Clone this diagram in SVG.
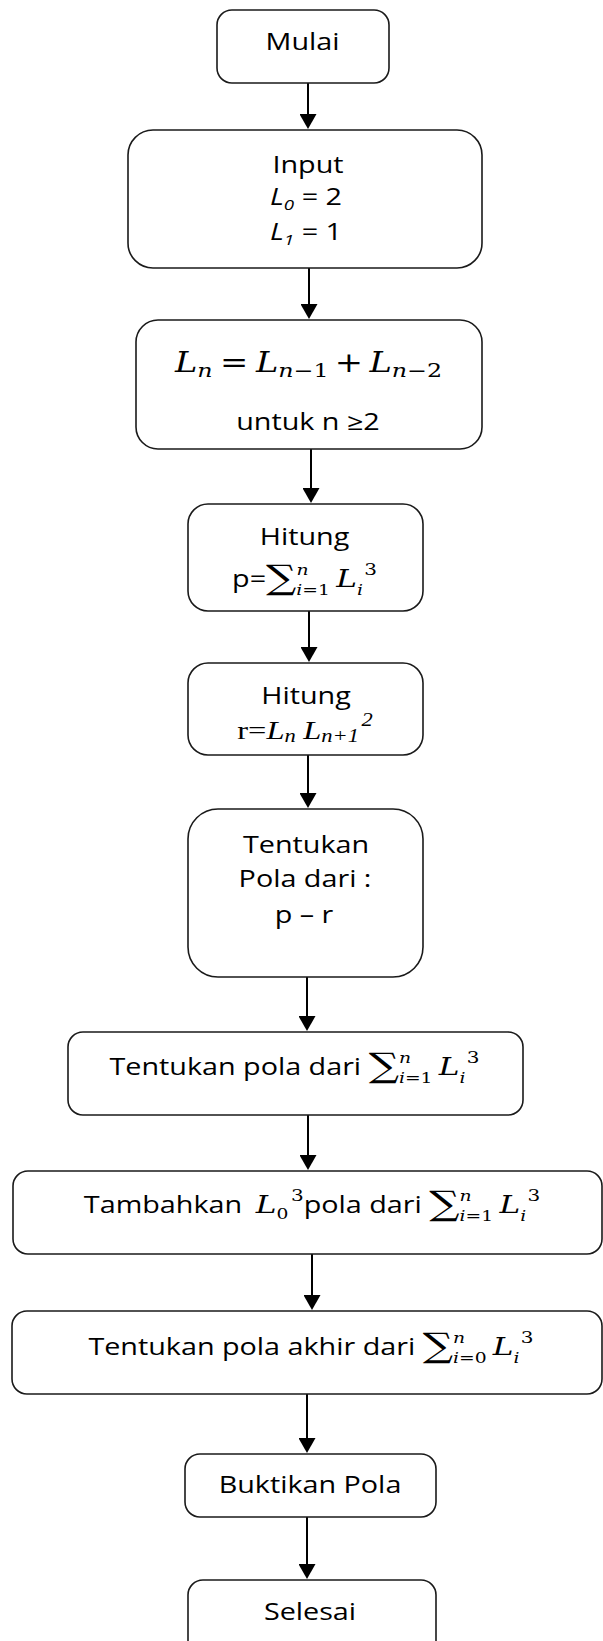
<svg xmlns="http://www.w3.org/2000/svg" width="603" height="1641" viewBox="0 0 603 1641">
<style>
.box{fill:#fff;stroke:#1a1a1a;stroke-width:1.6}
.t{font-family:"Open Sans","Liberation Sans",sans-serif;font-size:23px;fill:#000;text-anchor:middle}
.cm{font-family:"DejaVu Serif",serif;font-style:italic}
.cu{font-family:"DejaVu Serif",serif;font-style:normal}
.sg{font-family:"DejaVu Serif",serif;font-style:normal;font-size:34px}
.tn{font-family:"Liberation Serif","Times New Roman",serif;font-style:normal}
.ti{font-family:"Liberation Serif","Times New Roman",serif;font-style:italic}
.oi{font-style:italic}
.conn{stroke:#000;stroke-width:2;fill:none;marker-end:url(#ah)}
</style>
<defs>
<marker id="ah" markerUnits="userSpaceOnUse" markerWidth="16" markerHeight="17" viewBox="0 0 16 17" refX="2" refY="8.5" orient="auto">
<path d="M0,0 L15,8.5 L0,17 z" fill="#000"/>
</marker>
</defs>
<g id="connectors">
<line class="conn" x1="308" y1="83" x2="308" y2="116"/>
<line class="conn" x1="309" y1="268" x2="309" y2="306"/>
<line class="conn" x1="311" y1="449" x2="311" y2="490"/>
<line class="conn" x1="309" y1="611" x2="309" y2="649"/>
<line class="conn" x1="308" y1="755" x2="308" y2="795"/>
<line class="conn" x1="307" y1="976" x2="307" y2="1018"/>
<line class="conn" x1="308" y1="1115" x2="308" y2="1157"/>
<line class="conn" x1="312" y1="1254" x2="312" y2="1297"/>
<line class="conn" x1="307" y1="1394" x2="307" y2="1440"/>
<line class="conn" x1="307" y1="1517" x2="307" y2="1566"/>
</g>
<g id="mulai">
<rect class="box" x="217" y="10" width="172" height="73" rx="15"/>
<text class="t" transform="translate(302.5,50) scale(1.25,1)">Mulai</text>
</g>
<g id="input">
<rect class="box" x="128" y="130" width="354" height="138" rx="25"/>
<text class="t" transform="translate(308,173) scale(1.25,1)">Input</text>
<text class="t" transform="translate(306,205) scale(1.25,1)"><tspan class="oi">L</tspan><tspan class="oi" font-size="15" dy="5">0</tspan><tspan dy="-5"> = 2</tspan></text>
<text class="t" transform="translate(306,240) scale(1.25,1)"><tspan class="oi">L</tspan><tspan class="oi" font-size="15" dy="5">1</tspan><tspan dy="-5"> = 1</tspan></text>
</g>
<g id="rekurensi">
<rect class="box" x="136" y="320" width="346" height="129" rx="22"/>
<text class="t" transform="translate(308.5,372) scale(1.25,1)"><tspan class="cm" font-size="27">L</tspan><tspan class="cm" font-size="19" dy="5">n</tspan><tspan class="cu" font-size="27" dy="-5" dx="6">=</tspan><tspan class="cm" font-size="27" dx="6">L</tspan><tspan class="cm" font-size="19" dy="5">n</tspan><tspan class="cu" font-size="19">−1</tspan><tspan class="cu" font-size="27" dy="-5" dx="5">+</tspan><tspan class="cm" font-size="27" dx="5">L</tspan><tspan class="cm" font-size="19" dy="5">n</tspan><tspan class="cu" font-size="19">−2</tspan></text>
<text class="t" transform="translate(308,430) scale(1.25,1)">untuk n ≥2</text>
</g>
<g id="hitung-p">
<rect class="box" x="188" y="504" width="235" height="107" rx="20"/>
<text class="t" transform="translate(304.5,545) scale(1.25,1)">Hitung</text>
<text class="t" transform="translate(304.5,587) scale(1.25,1)">p=<tspan class="sg" dy="2">∑</tspan><tspan class="cm" font-size="15" dy="-14">n</tspan><tspan class="cm" font-size="15" dx="-9.7" dy="20">i</tspan><tspan class="cu" font-size="15">=1</tspan><tspan class="cm" font-size="25" dx="5" dy="-8">L</tspan><tspan class="cm" font-size="15" dy="8">i</tspan><tspan class="cu" font-size="16" dx="1" dy="-20">3</tspan></text>
</g>
<g id="hitung-r">
<rect class="box" x="188" y="663" width="235" height="92" rx="20"/>
<text class="t" transform="translate(306,704) scale(1.25,1)">Hitung</text>
<text class="t" transform="translate(305,739) scale(1.25,1)"><tspan class="tn" font-size="26">r=</tspan><tspan class="ti" font-size="26">L</tspan><tspan class="ti" font-size="18" dy="3">n</tspan><tspan class="ti" font-size="26" dy="-3" dx="6">L</tspan><tspan class="ti" font-size="18" dy="3">n+1</tspan><tspan class="ti" font-size="18" dx="2" dy="-16">2</tspan></text>
</g>
<g id="pola-pr">
<rect class="box" x="188" y="809" width="235" height="168" rx="30"/>
<text class="t" transform="translate(306,853) scale(1.25,1)">Tentukan</text>
<text class="t" transform="translate(305,887) scale(1.25,1)">Pola dari :</text>
<text class="t" transform="translate(304,923) scale(1.25,1)">p – r</text>
</g>
<g id="pola-sum">
<rect class="box" x="68" y="1032" width="455" height="83" rx="15"/>
<text class="t" transform="translate(294.5,1075) scale(1.25,1)">Tentukan pola dari<tspan class="sg" dx="6" dy="2">∑</tspan><tspan class="cm" font-size="15" dy="-14">n</tspan><tspan class="cm" font-size="15" dx="-9.7" dy="20">i</tspan><tspan class="cu" font-size="15">=1</tspan><tspan class="cm" font-size="25" dx="5" dy="-8">L</tspan><tspan class="cm" font-size="15" dy="8">i</tspan><tspan class="cu" font-size="16" dx="1" dy="-20">3</tspan></text>
</g>
<g id="tambahkan">
<rect class="box" x="13" y="1171" width="589" height="83" rx="15"/>
<text class="t" transform="translate(312,1213) scale(1.25,1)">Tambahkan<tspan class="cm" font-size="25" dx="11">L</tspan><tspan class="cu" font-size="15" dy="6">0</tspan><tspan class="cu" font-size="16" dx="2" dy="-18">3</tspan><tspan dy="12">pola dari</tspan><tspan class="sg" dx="6" dy="2">∑</tspan><tspan class="cm" font-size="15" dy="-14">n</tspan><tspan class="cm" font-size="15" dx="-9.7" dy="20">i</tspan><tspan class="cu" font-size="15">=1</tspan><tspan class="cm" font-size="25" dx="5" dy="-8">L</tspan><tspan class="cm" font-size="15" dy="8">i</tspan><tspan class="cu" font-size="16" dx="1" dy="-20">3</tspan></text>
</g>
<g id="pola-akhir">
<rect class="box" x="12" y="1311" width="590" height="83" rx="15"/>
<text class="t" transform="translate(311,1355) scale(1.25,1)">Tentukan pola akhir dari<tspan class="sg" dx="6" dy="2">∑</tspan><tspan class="cm" font-size="15" dy="-14">n</tspan><tspan class="cm" font-size="15" dx="-9.7" dy="20">i</tspan><tspan class="cu" font-size="15">=0</tspan><tspan class="cm" font-size="25" dx="5" dy="-8">L</tspan><tspan class="cm" font-size="15" dy="8">i</tspan><tspan class="cu" font-size="16" dx="1" dy="-20">3</tspan></text>
</g>
<g id="buktikan">
<rect class="box" x="185" y="1454" width="251" height="63" rx="15"/>
<text class="t" transform="translate(310,1493) scale(1.25,1)">Buktikan Pola</text>
</g>
<g id="selesai">
<rect class="box" x="188" y="1580" width="248" height="80" rx="15"/>
<text class="t" transform="translate(310,1620) scale(1.25,1)">Selesai</text>
</g>
</svg>
